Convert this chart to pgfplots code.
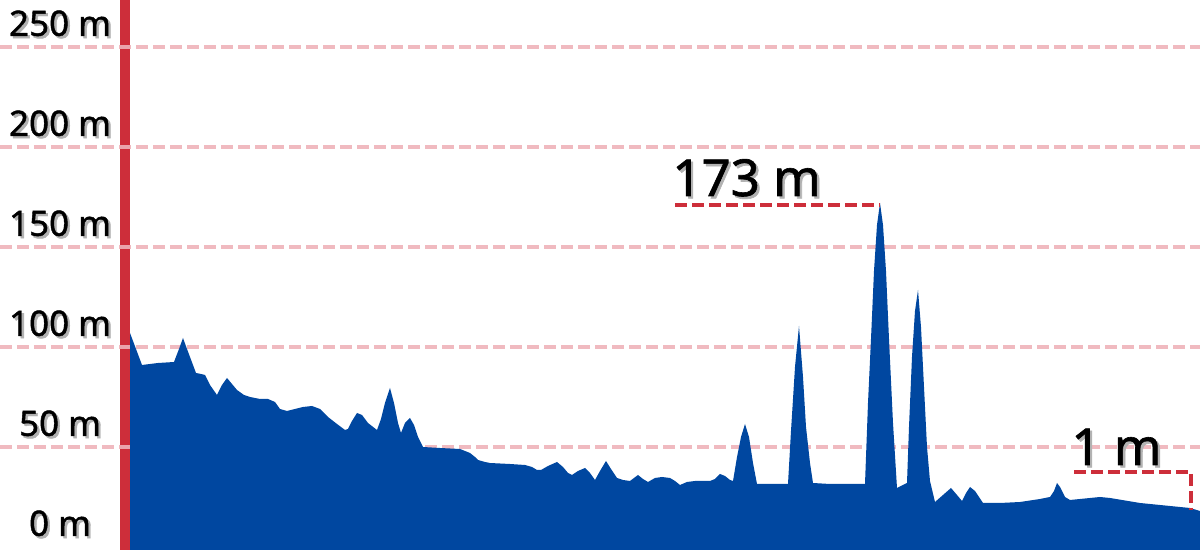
\documentclass[border=0pt]{standalone}
\usepackage{fontspec}
\setmainfont{Noto Sans}[RawFeature={embolden=1.2}]
\usepackage{pgfplots}
\pgfplotsset{compat=1.18}
\definecolor{kblue}{HTML}{0047A0}
\definecolor{kred}{HTML}{CD2E3A}
\definecolor{kgrid}{HTML}{EEB3B9}
\newcommand\sh[1]{\makebox[0pt][l]{\hspace{1.2pt}\raisebox{-1.2pt}{\textcolor{black!30}{#1}}}#1}
\begin{document}
\begin{tikzpicture}[x=1pt,y=1pt]
\useasboundingbox (0,0) rectangle (600,275);
\begin{axis}[at={(60pt,0pt)}, anchor=south west, scale only axis,
  width=540pt, height=275pt,
  xmin=120, xmax=1200, ymin=-1.5, ymax=273.5,
  axis line style={draw=none}, major tick length=0pt,
  xtick=\empty, ytick={0,50,100,150,200,250},
  yticklabels={\sh{0 m},\sh{50 m},\sh{100 m},\sh{150 m},\sh{200 m},\sh{250 m}},
  yticklabel style={anchor=center, xshift=-30pt, yshift=11.25pt, inner sep=0pt,
    font=\fontsize{17.5}{20}\selectfont},
  clip=false]
\fill[kred] (axis cs:120,-1.5) rectangle (axis cs:130,273.5);
\pgfplotsinvokeforeach{50,100,150,200,250}{
  \draw[kgrid, opacity=0.9, line width=1.6pt, dash pattern=on 6pt off 2.5pt] (axis cs:0,#1) -- (axis cs:1200,#1);
}
\addplot[fill=kblue, draw=none] coordinates {
(130,-1.5) (130,107) (142,91) (158,92) (174,92.5) (179,99) (183,104.5) (187,99)
(196,87) (201,86.5) (205,86) (210,81) (217,76) (222,81) (227,84.5) (232,81.5)
(237,78.5) (244,76) (250,75) (260,74) (268,74) (275,72.5) (280,69) (287,68)
(295,69) (303,70) (312,70.5) (320,69) (328,65) (337,61.5) (345,58.5) (348,59)
(352,63) (357,67) (362,66) (368,62) (377,58.5) (381,64) (385,72) (390,79.5)
(394,72) (398,62) (401,57) (405,62) (410,64.5) (414,61) (418,55) (423,50)
(440,49.5) (460,49) (470,47) (475,45) (478,43.5) (485,42.5) (490,42) (510,41.5)
(525,41) (532,40) (537,38.5) (541,38.5) (548,40.5) (557,42.5) (563,40) (568,37)
(572,36) (578,38) (585,39.5) (590,37) (595,33.5) (600,38) (606,43) (611,39)
(617,34.5) (623,33.5) (630,33) (634,34.5) (638,36) (643,34) (648,32.5) (655,34.5)
(662,35) (670,34.5) (675,33) (680,31) (687,32.5) (695,33) (710,33) (715,34)
(720,36.5) (725,35.5) (730,33.5) (733,33) (737,45) (741,55) (745,61.5) (749,55)
(753,42) (757,31.5) (788,31.5) (791,58) (795,90) (799,110.5) (803,85) (806,60)
(810,42) (813,32) (830,31.5) (865,31.5) (868,72) (871,104) (874,138) (877,161)
(880,172) (883,161) (886,138) (889,104) (893,62) (897,29.5) (907,32) (909,60)
(912,95) (915,118) (918,128.5) (921,110) (924,80) (927,50) (930,33) (935,22.5)
(943,26) (951,29.5) (957,26) (962,23) (966,27) (970,30) (975,28) (979,25)
(983,22) (1000,22) (1020,22.5) (1040,24) (1050,25) (1054,28) (1057,32) (1060,30)
(1065,25) (1070,23.5) (1080,24) (1090,24.5) (1100,25) (1110,24.5) (1140,22)
(1170,20.5) (1190,19.5) (1200,18) (1200,-1.5)
} -- cycle;
\draw[kred, line width=1.6pt, dash pattern=on 6pt off 2.5pt] (axis cs:675,171) -- (axis cs:880,171);
\node[anchor=base west, inner sep=0pt, font=\fontsize{25.5}{30}\selectfont] at (axis cs:672,175.5) {\sh{173 m}};
\draw[kred, line width=1.6pt, dash pattern=on 6pt off 2.5pt] (axis cs:1074,37.5) -- (axis cs:1191,37.5) -- (axis cs:1191,18.5);
\node[anchor=base west, inner sep=0pt, font=\fontsize{25.5}{30}\selectfont] at (axis cs:1071,41) {\sh{1 m}};
\end{axis}
\end{tikzpicture}
\end{document}
